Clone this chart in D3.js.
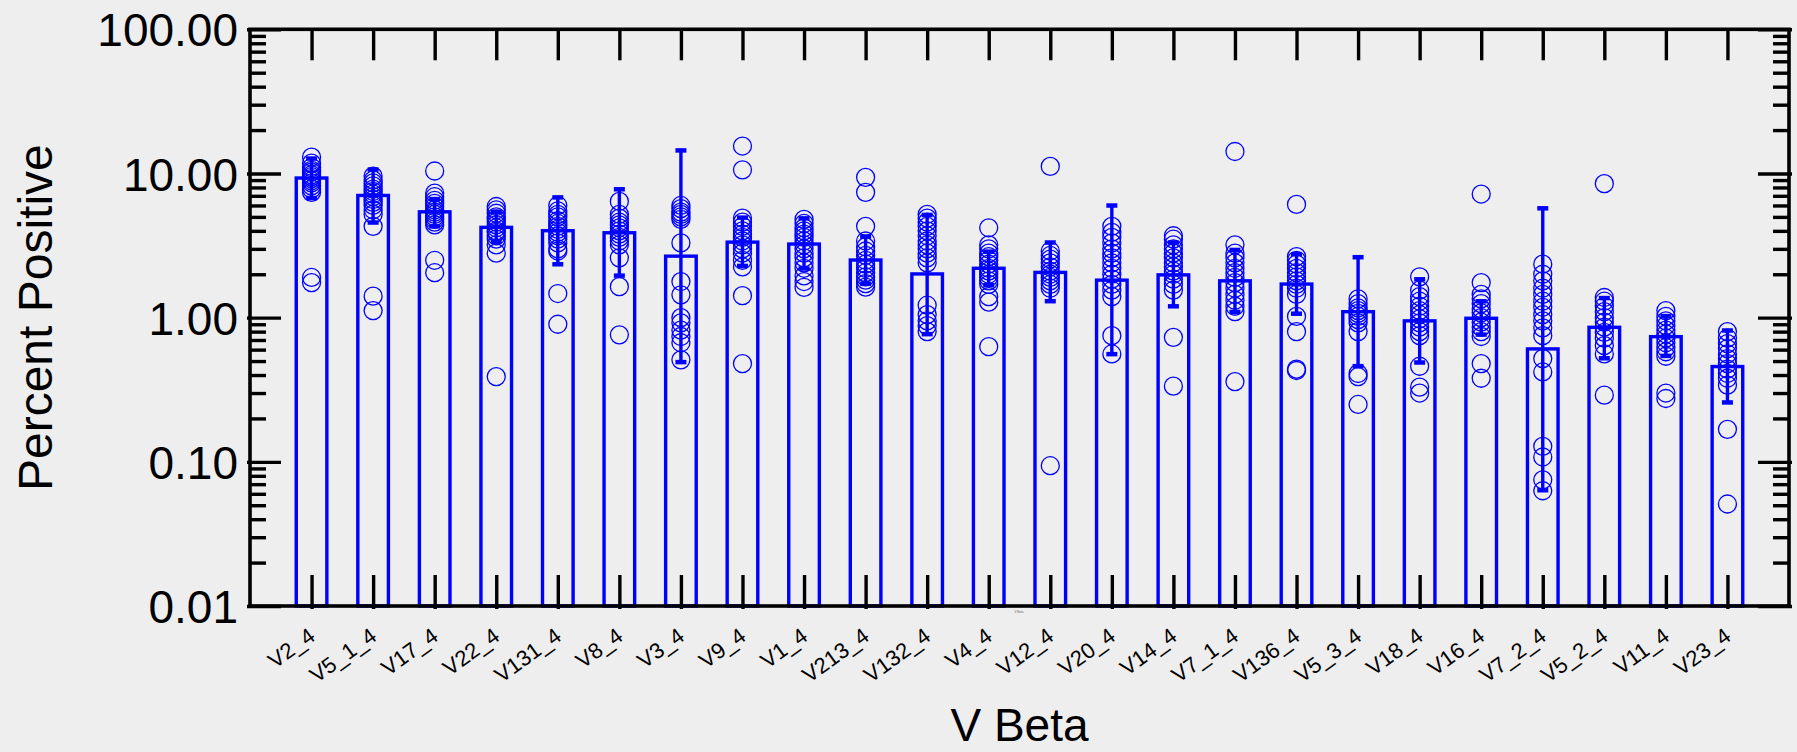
<!DOCTYPE html>
<html>
<head>
<meta charset="utf-8">
<script src="https://cdn.jsdelivr.net/npm/d3@7"></script>
<style>
  html, body { margin: 0; padding: 0; background: #eeeeee; }
  svg { display: block; }
  text { font-family: "Liberation Sans", Arial, sans-serif; fill: #000; }
</style>
</head>
<body>
<svg id="chart" width="1797" height="752"></svg>
<script>
// V beta families, ordered by mean frequency
const categories = ["V2_4", "V5_1_4", "V17_4", "V22_4", "V131_4", "V8_4", "V3_4", "V9_4",
  "V1_4", "V213_4", "V132_4", "V4_4", "V12_4", "V20_4", "V14_4", "V7_1_4", "V136_4",
  "V5_3_4", "V18_4", "V16_4", "V7_2_4", "V5_2_4", "V11_4", "V23_4"];

// bar heights (mean percent positive)
const means = [9.3, 7.04, 5.42, 4.23, 4.01, 3.88, 2.67, 3.34, 3.24, 2.51, 2.01, 2.2,
  2.06, 1.82, 1.98, 1.8, 1.71, 1.1, 0.95, 0.99, 0.607, 0.857, 0.738, 0.458];

// error bar ends
const errHigh = [13.0, 10.9, 6.8, 5.57, 6.99, 7.96, 14.8, 5.06, 5.0, 3.74, 5.28, 2.94,
  3.4, 6.14, 3.4, 3.02, 2.82, 2.69, 1.89, 1.33, 5.87, 1.4, 1.05, 0.834];
const errLow = [6.6, 4.46, 4.2, 3.27, 2.29, 1.91, 0.48, 2.23, 2.14, 1.68, 0.75, 1.64,
  1.27, 0.545, 1.17, 1.07, 1.04, 0.45, 0.477, 0.745, 0.062, 0.51, 0.53, 0.252];

// individual donors per family
const points = [
  [13.0, 11.8, 11.0, 10.5, 10.2, 9.8, 9.5, 9.2, 8.9, 8.6, 8.2, 7.8, 7.4, 1.9, 1.75],
  [9.6, 9.0, 8.6, 8.2, 7.8, 7.5, 7.2, 6.9, 6.6, 6.3, 6.0, 5.6, 5.2, 4.3, 1.41, 1.12],
  [10.4, 7.3, 6.9, 6.5, 6.2, 5.9, 5.6, 5.4, 5.2, 5.0, 4.8, 4.6, 4.4, 2.5, 2.05],
  [5.9, 5.6, 5.3, 5.0, 4.8, 4.6, 4.4, 4.2, 4.0, 3.9, 3.7, 3.5, 3.2, 2.8, 0.39],
  [6.0, 5.5, 5.2, 5.0, 4.7, 4.5, 4.3, 4.1, 3.9, 3.7, 3.5, 3.3, 3.0, 2.9, 1.47, 0.90],
  [6.4, 5.2, 4.9, 4.6, 4.4, 4.2, 4.0, 3.8, 3.6, 3.4, 3.2, 2.6, 1.64, 0.76],
  [6.0, 5.7, 5.4, 5.2, 5.0, 4.8, 3.3, 1.78, 1.44, 1.0, 0.92, 0.82, 0.74, 0.67, 0.51],
  [15.5, 10.6, 4.9, 4.6, 4.3, 4.0, 3.8, 3.6, 3.4, 3.2, 3.0, 2.8, 2.5, 2.25, 1.42, 0.48],
  [4.8, 4.5, 4.2, 4.0, 3.8, 3.6, 3.4, 3.2, 3.0, 2.8, 2.6, 2.4, 2.2, 1.95, 1.78, 1.62],
  [9.4, 7.4, 4.3, 3.4, 3.1, 2.9, 2.7, 2.5, 2.35, 2.2, 2.05, 1.92, 1.82, 1.72, 1.63],
  [5.2, 4.9, 4.6, 4.3, 4.0, 3.7, 3.4, 3.2, 3.0, 2.8, 2.6, 2.4, 1.22, 1.05, 0.95, 0.88, 0.80],
  [4.2, 3.2, 3.0, 2.8, 2.65, 2.5, 2.35, 2.2, 2.1, 2.0, 1.9, 1.8, 1.7, 1.4, 1.28, 0.63],
  [11.2, 2.9, 2.7, 2.55, 2.4, 2.25, 2.1, 2.0, 1.9, 1.8, 1.7, 1.6, 0.094],
  [4.3, 3.9, 3.6, 3.3, 3.0, 2.8, 2.6, 2.4, 2.2, 2.0, 1.85, 1.7, 1.55, 1.4, 0.75, 0.56],
  [3.7, 3.5, 3.2, 3.0, 2.8, 2.6, 2.4, 2.25, 2.1, 2.0, 1.85, 1.7, 1.55, 0.73, 0.335],
  [14.2, 3.2, 2.8, 2.6, 2.4, 2.2, 2.05, 1.9, 1.75, 1.6, 1.45, 1.32, 1.2, 1.1, 0.36],
  [6.1, 2.65, 2.5, 2.35, 2.2, 2.05, 1.92, 1.8, 1.7, 1.6, 1.45, 1.02, 0.80, 0.44, 0.43],
  [1.35, 1.25, 1.17, 1.12, 1.07, 1.02, 0.97, 0.92, 0.80, 0.41, 0.39, 0.25],
  [1.92, 1.55, 1.4, 1.3, 1.2, 1.12, 1.05, 0.98, 0.92, 0.86, 0.80, 0.75, 0.46, 0.33, 0.30],
  [7.2, 1.75, 1.45, 1.35, 1.25, 1.15, 1.08, 1.0, 0.93, 0.86, 0.80, 0.74, 0.48, 0.38],
  [2.35, 2.0, 1.8, 1.6, 1.45, 1.3, 1.18, 1.05, 0.95, 0.85, 0.75, 0.52, 0.42, 0.128, 0.108, 0.075, 0.063],
  [8.5, 1.38, 1.3, 1.2, 1.1, 1.0, 0.93, 0.86, 0.79, 0.72, 0.64, 0.56, 0.29],
  [1.12, 1.02, 0.95, 0.88, 0.82, 0.77, 0.72, 0.67, 0.62, 0.58, 0.54, 0.30, 0.275],
  [0.80, 0.72, 0.66, 0.61, 0.56, 0.52, 0.48, 0.44, 0.41, 0.38, 0.34, 0.168, 0.051]
];

const majorTicks = [0.01, 0.1, 1, 10, 100];
const yTitle = "Percent Positive";
const xTitle = "V Beta";

// ---- layout ----
const plotLeft = 250, plotRight = 1789, plotTop = 29.3, plotBottom = 606;
const blue = "#0000ff";

const svg = d3.select("#chart");

const x = d3.scalePoint().domain(categories).range([plotLeft, plotRight]).padding(1);
const y = d3.scaleLog().domain([0.01, 100]).range([plotBottom, plotTop]);

const minorTicks = [];
for (let e = -2; e < 2; e++) {
  for (let m = 2; m <= 9; m++) minorTicks.push(m * Math.pow(10, e));
}

const barW = x.step() * 0.497;
const rows = categories.map((c, i) => ({
  c, mean: means[i], hi: errHigh[i], lo: errLow[i], pts: points[i]
}));

// bars (outline only)
svg.append("g").selectAll("rect").data(rows).join("rect")
  .attr("x", d => x(d.c) - barW / 2)
  .attr("y", d => y(d.mean))
  .attr("width", barW)
  .attr("height", d => plotBottom - y(d.mean))
  .attr("fill", "none")
  .attr("stroke", blue)
  .attr("stroke-width", 3.4);

// donor circles
const dots = svg.append("g");
rows.forEach(d => {
  dots.append("g").selectAll("circle").data(d.pts).join("circle")
    .attr("cx", x(d.c))
    .attr("cy", v => y(v))
    .attr("r", 9)
    .attr("fill", "none")
    .attr("stroke", blue)
    .attr("stroke-width", 1.3);
});

// error bars
const eb = svg.append("g").attr("stroke", blue);
eb.append("g").selectAll("line").data(rows).join("line")
  .attr("x1", d => x(d.c)).attr("x2", d => x(d.c))
  .attr("y1", d => y(d.hi)).attr("y2", d => y(d.lo))
  .attr("stroke-width", 3.4);
eb.append("g").selectAll("line").data(rows).join("line")
  .attr("x1", d => x(d.c) - 5.5).attr("x2", d => x(d.c) + 5.5)
  .attr("y1", d => y(d.hi) + 1.5).attr("y2", d => y(d.hi) + 1.5)
  .attr("stroke-width", 4.5);
eb.append("g").selectAll("line").data(rows).join("line")
  .attr("x1", d => x(d.c) - 5.5).attr("x2", d => x(d.c) + 5.5)
  .attr("y1", d => y(d.lo) - 1.5).attr("y2", d => y(d.lo) - 1.5)
  .attr("stroke-width", 4.5);

// ---- axes ----
const styleAxis = g => {
  g.select(".domain").remove();
  g.selectAll(".tick line").attr("stroke", "#000").attr("stroke-width", 3.4);
};

// left axis: labelled decades
svg.append("g").attr("transform", `translate(${plotLeft},0)`)
  .call(d3.axisLeft(y).tickValues(majorTicks).tickFormat(d3.format(".2f"))
    .tickSizeInner(-31).tickSizeOuter(0).tickPadding(12))
  .call(styleAxis)
  .call(g => g.selectAll(".tick line").attr("x1", -3))
  .call(g => g.selectAll(".tick text")
    .attr("dy", "0.36em")
    .style("font-size", "46px")
    .style("font-family", '"Liberation Sans", Arial, sans-serif'));
svg.append("g").attr("transform", `translate(${plotLeft},0)`)
  .call(d3.axisLeft(y).tickValues(minorTicks).tickFormat("").tickSizeInner(-16).tickSizeOuter(0))
  .call(styleAxis);

// right axis mirrors the left
svg.append("g").attr("transform", `translate(${plotRight},0)`)
  .call(d3.axisRight(y).tickValues(majorTicks).tickFormat("").tickSizeInner(-31).tickSizeOuter(0))
  .call(styleAxis)
  .call(g => g.selectAll(".tick line").attr("x1", 3));
svg.append("g").attr("transform", `translate(${plotRight},0)`)
  .call(d3.axisRight(y).tickValues(minorTicks).tickFormat("").tickSizeInner(-16).tickSizeOuter(0))
  .call(styleAxis);

// top axis ticks
svg.append("g").attr("transform", `translate(0,${plotTop})`)
  .call(d3.axisTop(x).tickFormat("").tickSizeInner(-31).tickSizeOuter(0))
  .call(styleAxis);

// bottom axis with slanted family names
svg.append("g").attr("transform", `translate(0,${plotBottom})`)
  .call(d3.axisBottom(x).tickSizeInner(-31).tickSizeOuter(0))
  .call(styleAxis)
  .call(g => g.selectAll(".tick line").attr("y1", 3))
  .call(g => g.selectAll(".tick text")
    .attr("y", null).attr("dy", null)
    .attr("transform", "translate(4.5,33) rotate(-36)")
    .style("text-anchor", "end")
    .style("font-size", "22px")
    .style("font-family", '"Liberation Sans", Arial, sans-serif'));

// plot frame
svg.append("rect")
  .attr("x", plotLeft).attr("y", plotTop)
  .attr("width", plotRight - plotLeft).attr("height", plotBottom - plotTop)
  .attr("fill", "none").attr("stroke", "#000").attr("stroke-width", 3.6);

// axis titles
svg.append("text")
  .attr("transform", `translate(52,${(plotTop + plotBottom) / 2}) rotate(-90)`)
  .attr("text-anchor", "middle")
  .style("font-size", "48px")
  .text(yTitle);

svg.append("text")
  .attr("x", (plotLeft + plotRight) / 2).attr("y", 741)
  .attr("text-anchor", "middle")
  .style("font-size", "46px")
  .text(xTitle);

// tiny stray caption under the axis
svg.append("text")
  .attr("x", 1019).attr("y", 613)
  .attr("text-anchor", "middle")
  .style("font-size", "3px")
  .style("fill", "#666")
  .text(xTitle);
</script>
</body>
</html>
